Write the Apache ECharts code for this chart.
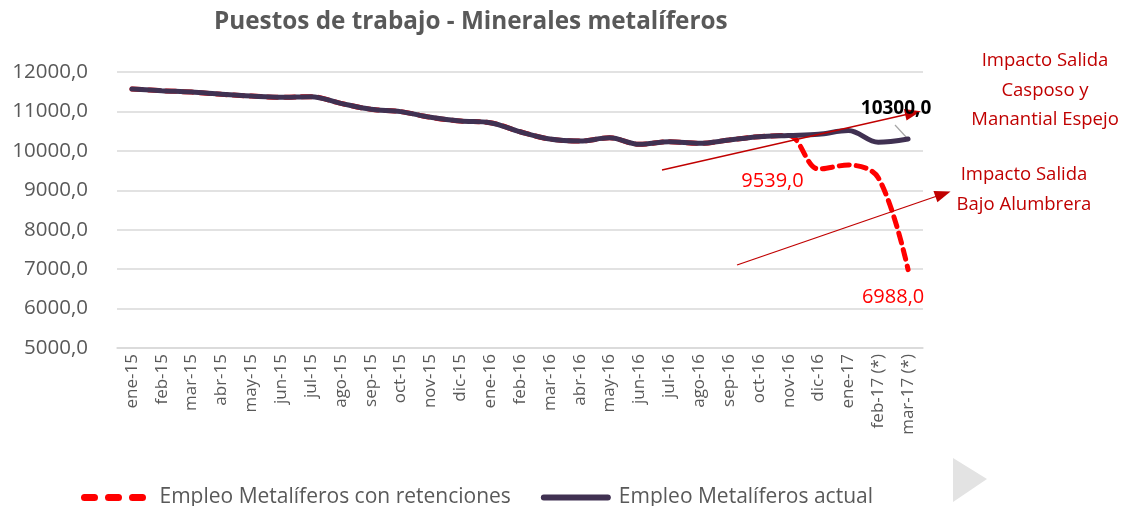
<!DOCTYPE html>
<html>
<head>
    <meta charset="utf-8">
    <script src="https://cdn.jsdelivr.net/npm/echarts@6/dist/echarts.min.js"></script>
    <style>
        body { margin: 0; background: #fff; }
    </style>
</head>
<body>
    <div id="main" style="width: 1126px; height: 506px"></div>
    <script type="text/javascript">
        var meses = ['ene-15', 'feb-15', 'mar-15', 'abr-15', 'may-15', 'jun-15', 'jul-15', 'ago-15', 'sep-15',
            'oct-15', 'nov-15', 'dic-15', 'ene-16', 'feb-16', 'mar-16', 'abr-16', 'may-16', 'jun-16', 'jul-16',
            'ago-16', 'sep-16', 'oct-16', 'nov-16', 'dic-16', 'ene-17', 'feb-17 (*)', 'mar-17 (*)'];

        var empleoActual = [11570, 11525, 11490, 11435, 11390, 11360, 11375, 11205, 11055, 10995, 10850, 10755,
            10715, 10485, 10300, 10250, 10330, 10165, 10230, 10190, 10275, 10360, 10390, 10420, 10515, 10217, 10300];

        var empleoRetenciones = [11570, 11525, 11490, 11435, 11390, 11360, 11375, 11205, 11055, 10995, 10850, 10755,
            10715, 10485, 10300, 10250, 10330, 10165, 10230, 10190, 10275, 10360, 10390, 9539, 9640, 9320, 6988];

        var yTicks = [5000, 6000, 7000, 8000, 9000, 10000, 11000, 12000];

        function fmt(v) {
            return v.toFixed(1).replace('.', ',');
        }

        var font = 'Open Sans';
        var rojo = '#c00000';

        // punto etiquetado (sin simbolo visible)
        function etiqueta(serie, i, offset, pos) {
            return {
                coord: [i, serie[i]],
                value: serie[i],
                label: {position: pos, offset: offset}
            };
        }

        var myChart = echarts.init(document.getElementById('main'));
        var option = {
            animation: false,
            title: {
                text: 'Puestos de trabajo - Minerales metalíferos',
                left: 209,
                top: 5,
                textStyle: {fontFamily: font, fontSize: 24.3, fontWeight: 'bold', color: '#595959'}
            },
            legend: {
                left: 76,
                top: 482,
                itemWidth: 64,
                itemHeight: 14,
                itemGap: 30,
                itemStyle: {opacity: 0},
                textStyle: {fontFamily: font, fontSize: 21, color: '#595959', padding: [0, 0, 0, 6]},
                data: [
                    {name: 'Empleo Metalíferos con retenciones', lineStyle: {width: 7, type: [10, 14], cap: 'round'}},
                    {name: 'Empleo Metalíferos actual', lineStyle: {width: 6, cap: 'round'}}
                ]
            },
            grid: {
                left: 117,
                right: 203,
                top: 72,
                bottom: 158,
                containLabel: false,
                outerBoundsMode: 'none'
            },
            xAxis: {
                type: 'category',
                data: meses,
                boundaryGap: true,
                axisLine: {lineStyle: {color: '#d9d9d9', width: 1.5}},
                axisTick: {show: false},
                axisLabel: {
                    rotate: 90,
                    margin: 6,
                    interval: 0,
                    fontFamily: font,
                    fontSize: 17,
                    color: '#595959'
                }
            },
            yAxis: {
                type: 'value',
                min: 5000,
                max: 12000,
                interval: 1000,
                axisLine: {show: false},
                axisTick: {show: false},
                splitLine: {lineStyle: {color: '#d9d9d9', width: 1.5}},
                axisLabel: {
                    margin: 29,
                    fontFamily: font,
                    fontSize: 20.5,
                    color: '#595959',
                    formatter: function (v) { return fmt(v); }
                }
            },
            series: [
                {
                    name: 'Empleo Metalíferos con retenciones',
                    type: 'line',
                    smooth: 0.35,
                    symbol: 'none',
                    z: 2,
                    data: empleoRetenciones,
                    lineStyle: {color: '#ff0000', width: 5, type: [10, 7], cap: 'round'},
                    itemStyle: {color: '#ff0000'},
                    markPoint: {
                        silent: true,
                        symbol: 'circle',
                        symbolSize: 0,
                        label: {
                            fontFamily: font,
                            fontSize: 20,
                            color: '#ff0000',
                            formatter: function (p) { return fmt(p.value); }
                        },
                        data: [
                            etiqueta(empleoRetenciones, 23, [-46, 12], 'inside'),
                            etiqueta(empleoRetenciones, 26, [-15, 28], 'inside')
                        ]
                    },
                    markLine: {
                        silent: true,
                        symbol: ['none', 'triangle'],
                        symbolSize: [12, 16],
                        label: {show: false},
                        lineStyle: {color: rojo, width: 1.3, type: 'solid'},
                        data: [
                            [{x: 662, y: 170}, {x: 913, y: 113}],
                            [{x: 737, y: 265}, {x: 943, y: 194}]
                        ]
                    }
                },
                {
                    name: 'Empleo Metalíferos actual',
                    type: 'line',
                    smooth: 0.35,
                    symbol: 'none',
                    z: 3,
                    data: empleoActual,
                    lineStyle: {color: '#403152', width: 5, cap: 'round'},
                    itemStyle: {color: '#403152'},
                    markPoint: {
                        silent: true,
                        symbol: 'circle',
                        symbolSize: 0,
                        label: {
                            fontFamily: font,
                            fontSize: 19,
                            fontWeight: 'bold',
                            color: '#000',
                            formatter: function (p) { return fmt(p.value); }
                        },
                        data: [
                            etiqueta(empleoActual, 26, [-12, -30], 'inside')
                        ]
                    }
                }
            ],
            graphic: [
                {
                    type: 'line',
                    shape: {x1: 895, y1: 125, x2: 907, y2: 138},
                    style: {stroke: '#a6a6a6', lineWidth: 1.2}
                },
                {
                    type: 'text',
                    x: 1045,
                    y: 46,
                    style: {
                        text: 'Impacto Salida\nCasposo y\nManantial Espejo',
                        align: 'center',
                        fill: rojo,
                        font: '18.5px "Open Sans"',
                        lineHeight: 29.5
                    }
                },
                {
                    type: 'text',
                    x: 1024,
                    y: 160,
                    style: {
                        text: 'Impacto Salida\nBajo Alumbrera',
                        align: 'center',
                        fill: rojo,
                        font: '18.5px "Open Sans"',
                        lineHeight: 29.5
                    }
                },
                {
                    type: 'polygon',
                    shape: {points: [[953, 458], [987, 479], [953, 502]]},
                    style: {fill: '#e3e3e3'}
                }
            ]
        };
        myChart.setOption(option);
    </script>
</body>
</html>
